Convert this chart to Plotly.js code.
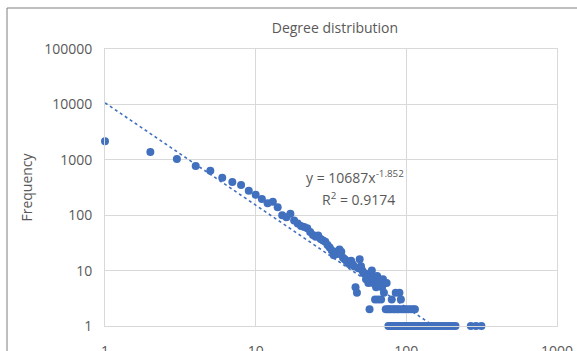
<!DOCTYPE html>
<html>
<head>
<meta charset="utf-8">
<script src="https://cdn.plot.ly/plotly-3.0.1.min.js"></script>
<style>html,body{margin:0;padding:0;background:#fff;}#chart{width:577px;height:351px;}</style>
</head>
<body>
<div id="chart"></div>
<script>
// Degree distribution data (degree, frequency)
const degree = [
  1,2,3,4,5,6,7,8,9,10,11,12,13,14,15,16,17,18,19,20,
  21,22,23,24,25,26,27,28,29,30,31,32,33,34,35,36,37,38,39,40,
  41,42,43,44,45,46,47,48,49,50,51,52,53,54,55,56,57,58,59,60,
  61,62,63,64,65,66,67,68,69,70,71,72,74,80,85,90,92,
  73,75,77,79,82,84,87,89,93,96,99,103,107,111,114,
  76,78,81,83,86,88,91,95,98,100,102,105,108,112,116,120,125,130,135,140,
  146,152,158,165,172,180,188,196,205,212,268,290,315
];
const frequency = [
  2158,1383,1033,773,636,475,397,351,277,234,196,164,175,139,100,92,106,80,71,64,
  61,58,50,44,41,43,37,35,33,29,26,23,19,22,20,24,22,17,16,15,
  14,13,15,13,12,5,4,11,16,12,10,9,9,7,8,6,2,9,10,6,
  7,3,5,8,3,7,6,3,5,7,4,6,6,3,4,4,3,
  2,2,2,2,2,2,2,2,2,2,2,2,2,2,2,
  1,1,1,1,1,1,1,1,1,1,1,1,1,1,1,1,1,1,1,1,
  1,1,1,1,1,1,1,1,1,1,1,1,1
];
// Power trendline endpoints (y = 10687 x^-1.852) over the data range
const trendX = [1, 315];
const trendY = [10687, 0.26];
const yTickVals = [1, 10, 100, 1000, 10000, 100000];
const yTickText = ["1", "10", "100", "1000", "10000", "100000"];
const xTickVals = [1, 10, 100, 1000];
const xTickText = ["1", "10", "100", "1000"];

const blue = "#4170be";
const txt = "#595959";
const grid = "#d9d9d9";
const fontFam = "Open Sans, Liberation Sans, sans-serif";

const traces = [
  {x: trendX, y: trendY, mode: "lines", type: "scatter",
   line: {color: blue, width: 1.6, dash: "dot"}, hoverinfo: "skip", showlegend: false},
  {x: degree, y: frequency, mode: "markers", type: "scatter",
   marker: {color: blue, size: 8, line: {width: 0}}, showlegend: false, cliponaxis: false}
];

const layout = {
  width: 577, height: 351,
  margin: {l: 105, r: 20, t: 49, b: 25, pad: 0},
  paper_bgcolor: "#ffffff", plot_bgcolor: "#ffffff",
  font: {family: fontFam, color: txt, size: 14},
  title: {text: "Degree distribution", x: 0.5087, xref: "paper", y: 0.92, yanchor: "middle",
          xanchor: "center", font: {family: fontFam, size: 14, color: txt}},
  xaxis: {type: "log", range: [0, 3], tickvals: xTickVals, ticktext: xTickText,
          showgrid: true, gridcolor: grid, gridwidth: 1, zeroline: false,
          showline: true, linecolor: grid, linewidth: 1, mirror: true,
          ticks: "outside", ticklen: 12, tickcolor: "rgba(0,0,0,0)",
          tickfont: {family: fontFam, size: 14, color: txt}},
  yaxis: {type: "log", range: [0, 5], tickvals: yTickVals, ticktext: yTickText,
          showgrid: true, gridcolor: grid, gridwidth: 1, zeroline: false,
          showline: true, linecolor: grid, linewidth: 1, mirror: true,
          ticks: "outside", ticklen: 9, tickcolor: "rgba(0,0,0,0)",
          tickfont: {family: fontFam, size: 14, color: txt},
          title: {text: "Frequency", font: {family: fontFam, size: 14, color: txt}, standoff: 8}},
  annotations: [
    {text: "y = 10687x<sup>-1.852</sup>", xref: "paper", yref: "paper", x: 0.553, y: 0.538,
     showarrow: false, xanchor: "center", yanchor: "middle", font: {family: fontFam, size: 14, color: txt}},
    {text: "R<sup>2</sup> = 0.9174", xref: "paper", yref: "paper", x: 0.560, y: 0.458,
     showarrow: false, xanchor: "center", yanchor: "middle", font: {family: fontFam, size: 14, color: txt}}
  ],
  shapes: [
    {type: "rect", xref: "paper", yref: "paper", x0: -0.2168, x1: 1.06, y0: -0.15, y1: 1.148,
     line: {color: "#7f7f7f", width: 1}, fillcolor: "rgba(0,0,0,0)", layer: "below"}
  ]
};

Plotly.newPlot("chart", traces, layout, {displayModeBar: false, staticPlot: true});
</script>
</body>
</html>
